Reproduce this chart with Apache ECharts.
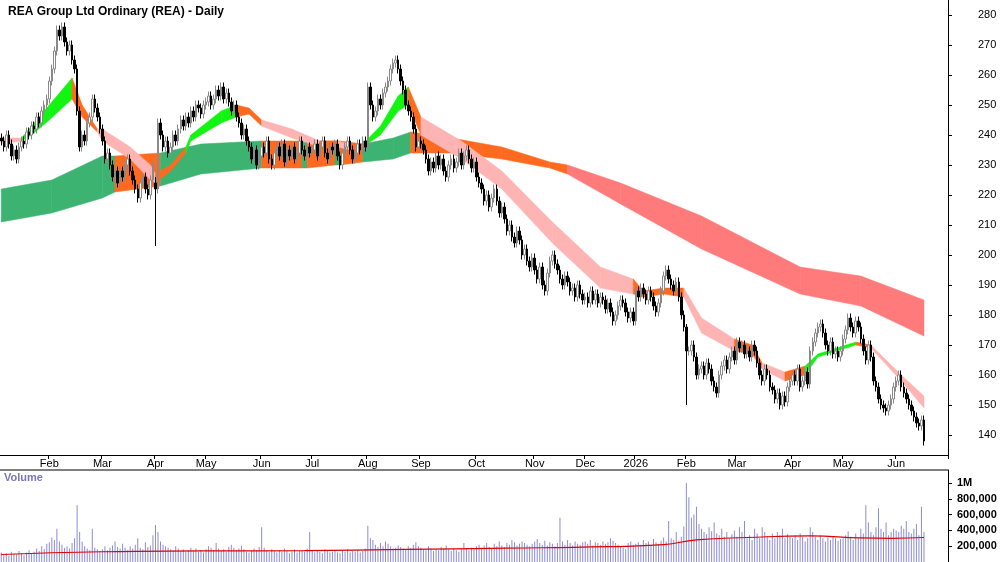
<!DOCTYPE html>
<html><head><meta charset="utf-8">
<script src="https://cdn.jsdelivr.net/npm/echarts@6/dist/echarts.min.js"></script>
<style>html,body{margin:0;background:#fff}#c{width:1000px;height:562px}</style>
</head><body><div id="c"></div>
<script>
// Daily closes by month
const months = [
  ['', [238,236,240,237,233,235,232,236,238,237,241,240,243,242,246,244,248,250,252]],
  ['Feb', [258,262,268,275,273,276,271,268,270,265,262,248,236,240,238,244,246,252,249,246,242]],
  ['Mar', [238,232,234,230,226,228,224,228,226,230,232,228,225,222,219,224,226,222,220,225,230]],
  ['Apr', [222,244,240,236,238,234,236,240,238,242,245,243,246,244,248,246,250,249,247,250]],
  ['May', [251,253,250,252,255,253,256,252,254,251,248,250,246,244,240,242,238,236,232,235,230,233]],
  ['Jun', [236,234,238,232,230,234,236,233,237,231,235,233,236,232,234,238,235,233,236,234]],
  ['Jul', [235,237,233,236,238,234,232,236,235,237,233,230,234,236,238,235,232,234,237,235,238,236]],
  ['Aug', [256,250,246,248,252,250,254,256,258,262,264,265,262,258,255,250,248,246,242,236,238]],
  ['Sep', [237,235,232,228,231,229,233,230,232,228,226,230,232,229,231,234,230,233,235,232,229,231]],
  ['Oct', [226,224,222,218,220,216,219,222,218,214,216,212,208,210,206,204,208,205,200,202,198,196,199]],
  ['Nov', [195,192,196,190,188,194,198,200,197,195,192,190,193,191,188,189,186,190,187,185]],
  ['Dec', [186,184,188,185,187,184,186,185,182,184,181,178,180,183,185,184,181,179,181,178]],
  ['2026', [188,186,189,187,185,188,186,183,181,184,188,193,195,192,190,188,191,186,180,176]],
  ['Feb', [168,168,170,166,160,162,163,160,164,162,158,156,154,160,163,165,162,166,168,165]],
  ['Mar', [171,169,170,167,168,166,170,168,164,160,158,162,160,156,155,152,154,150,153,151,156,158]],
  ['Apr', [160,158,162,156,158,161,157,168,171,174,176,177,174,170,168,171,167,168,166,168]],
  ['May', [172,175,179,176,174,178,176,172,168,165,170,166,158,156,152,150,149,148,150,152,156]],
  ['Jun', [158,160,156,154,152,150,148,146,144,143,145,138]]
];
// daily volume in thousands, same month order
const volume = [
  [120,90,110,80,130,100,95,140,110,85,120,150,100,130,170,140,200,160,230],
  [250,310,280,420,260,220,180,200,170,240,300,720,380,260,200,170,150,420,180,160,140],
  [160,200,150,180,210,260,190,170,230,180,150,200,170,220,300,180,160,250,190,210,340],
  [470,380,260,220,200,180,160,150,200,170,140,160,130,150,180,140,170,130,150,120],
  [160,200,180,150,240,170,140,160,130,190,220,180,150,170,210,160,130,120,140,170,150,190],
  [440,180,150,130,160,140,120,150,130,170,140,110,130,160,120,140,150,130,170,380],
  [140,120,150,130,110,160,140,120,130,150,120,110,140,130,160,120,140,130,150,120,140,170],
  [460,300,280,220,190,240,200,260,230,200,170,180,210,190,170,160,200,180,220,250,200],
  [180,160,150,200,170,140,160,150,190,170,210,160,140,170,150,130,160,240,170,150,180,160],
  [200,220,180,210,240,190,170,230,200,260,210,190,240,220,280,250,210,230,260,240,220,200,230],
  [260,290,240,220,270,210,250,230,200,240,560,260,220,280,240,210,260,230,220,250],
  [260,230,280,210,250,240,220,260,230,250,300,270,240,220,200,180,160,240,260,220],
  [230,250,220,280,240,260,220,290,250,230,270,310,260,520,300,280,380,270,320,450],
  [1000,820,560,600,700,480,420,380,350,440,390,500,360,340,420,320,380,300,350,400],
  [320,440,380,520,300,340,280,420,360,300,440,380,330,280,360,300,380,340,420,300,350,320],
  [300,340,280,360,320,260,300,440,380,320,280,340,300,260,310,280,320,300,270,290],
  [300,340,390,320,280,360,300,420,360,720,500,380,340,440,680,420,380,500,340,380,420],
  [400,380,460,420,520,380,360,420,480,340,700,380]
];
// special bars: [index, open, low, high]
const specialBars = [[61, 224, 203, 226], [271, 176, 150, 177]];
// volume moving average (thousands) at [index, value]
const volMA = [[0,95],[40,130],[80,140],[120,145],[160,160],[200,175],[240,195],[262,220],[275,280],[295,310],[320,330],[340,305],[352,300],[365,310]];
// ribbons: [index, low, high, colour code]
const shortBand = [[0,237,239,'P'],[8,238,239,'G'],[12,240,243,'G'],[19,245,250,'G'],[28,252,259,'O'],[32,246,250,'O'],[38,241,242,'P'],[40,238,242,'P'],[51,232,236,'P'],[59,225,230,'P'],[61,224,227,'O'],[67,228,230,'O'],[73,234,236,'G'],[75,238,240,'G'],[87,244,248,'G'],[93,246,250,'O'],[98,247,249,'O'],[103,243,245,'P'],[115,239,242,'P'],[126,236,238,'O'],[133,236,238,'P'],[138,235,237,'O'],[143,236,237,'G'],[150,240,243,'G'],[157,248,253,'G'],[161,250,256,'O'],[166,240,246,'P'],[170,238,244,'P'],[182,232,238,'P'],[198,222,228,'P'],[218,204,211,'P'],[237,189,196,'P'],[250,187,192,'O'],[254,186,188,'O'],[262,187,189,'O'],[270,186,189,'P'],[277,174,179,'P'],[290,168,172,'O'],[297,167,170,'O'],[301,162,164,'P'],[310,158,161,'O'],[318,160,163,'G'],[323,166,167,'G'],[338,170,171,'O'],[344,169,170,'P'],[356,158,160,'P'],[365,149,153,'P']];
const longBand = [[0,211,222,'g'],[20,214,225,'g'],[40,219,233,'g'],[45,221,233,'o'],[63,223,234,'g'],[79,227,237,'g'],[103,229,238,'o'],[119,229,238,'g'],[121,229,238,'o'],[132,230,238,'g'],[134,230,238,'o'],[143,231,237,'g'],[155,232,239,'g'],[162,234,241,'o'],[178,234,239,'o'],[198,232,236,'o'],[217,229,231,'o'],[224,227,230,'r'],[245,217,224,'r'],[277,202,213,'r'],[316,187,196,'r'],[340,183,193,'r'],[365,173,185,'r']];
const bandColors = {G:'#11f511', O:'#ff6a1e', P:'#ffb4b4', g:'#3cb371', o:'#ff6a1e', r:'#ff7b7b'};
const priceTicks = [140,150,160,170,180,190,200,210,220,230,240,250,260,270,280];
const volTicks = [200000,400000,600000,800000,1000000];

const closes = months.flatMap(m => m[1]);
const vols = volume.flat().map(v => v * 1000);
const N = 375;
const cats = [], starts = new Set(), startName = {};
let k = 0;
months.forEach(m => { if (m[0]) { starts.add(k); startName[k] = m[0]; } k += m[1].length; });
for (let i = 0; i < N; i++) cats.push(String(i));
const special = Object.fromEntries(specialBars.map(s => [s[0], s]));
const candles = closes.map((c, i) => {
  let o = i ? closes[i - 1] : c + 1;
  let lo = Math.min(o, c) - 1.5, hi = Math.max(o, c) + 1.5;
  if (special[i]) { o = special[i][1]; lo = special[i][2]; hi = special[i][3]; }
  return [o, c, lo, hi];
});

function bandSeries(pts) {
  return {
    type: 'custom', xAxisIndex: 0, yAxisIndex: 0, silent: true, z: 1,
    data: pts.map(p => [p[0], p[1], p[2]]),
    renderItem(params, api) {
      const i = params.dataIndex;
      if (i >= pts.length - 1) return;
      const a = pts[i], b = pts[i + 1];
      return {
        type: 'polygon',
        shape: { points: [api.coord([a[0], a[2]]), api.coord([b[0], b[2]]), api.coord([b[0], b[1]]), api.coord([a[0], a[1]])] },
        style: { fill: bandColors[a[3]], stroke: bandColors[a[3]], lineWidth: 0.5 }
      };
    }
  };
}

const chart = echarts.init(document.getElementById('c'));
const font = 'Arial, Liberation Sans';
const xCommon = {
  type: 'category', data: cats, boundaryGap: true,
  axisLine: { lineStyle: { color: '#000' } },
  axisTick: { show: false }, splitLine: { show: false }
};
chart.setOption({
  animation: false,
  title: { text: 'REA Group Ltd Ordinary (REA) - Daily', left: 3, top: 1,
    textStyle: { fontFamily: font, fontSize: 12, fontWeight: 'bold', color: '#000' } },
  graphic: [
    { type: 'text', left: 4, top: 472, style: { text: 'Volume', fill: '#7777bb', font: 'bold 11px ' + font } },
    { type: 'line', shape: { x1: 0, y1: 470, x2: 948, y2: 470 }, style: { stroke: '#000', lineWidth: 1 } }
  ],
  grid: [
    { left: 0, right: 52, top: 0, height: 455 },
    { left: 0, right: 52, top: 470, height: 92 }
  ],
  xAxis: [
    Object.assign({}, xCommon, { gridIndex: 0,
      axisTick: { show: true, length: 4, interval: i => starts.has(i), lineStyle: { color: '#000' } },
      axisLabel: { interval: i => starts.has(i), formatter: (v, i) => startName[i] || '',
        fontFamily: font, fontSize: 11, color: '#000', margin: 3 } }),
    Object.assign({}, xCommon, { gridIndex: 1, axisLine: { show: false }, axisLabel: { show: false } })
  ],
  yAxis: [
    { type: 'value', gridIndex: 0, position: 'right', min: 280 - 455 / 3 + 5, max: 285,
      axisLine: { show: true, lineStyle: { color: '#000' } }, splitLine: { show: false },
      axisTick: { show: true, customValues: priceTicks, length: 4 },
      axisLabel: { customValues: priceTicks, fontFamily: font, fontSize: 11, color: '#000', margin: 30 } },
    { type: 'value', gridIndex: 1, position: 'right', min: 0, max: 1165000,
      axisLine: { show: true, lineStyle: { color: '#000' } }, splitLine: { show: false },
      axisTick: { show: true, customValues: volTicks, length: 4 },
      axisLabel: { customValues: volTicks, formatter: v => v === 1000000 ? '1M' : v.toLocaleString('en-US'),
        fontFamily: font, fontSize: 11, fontWeight: 'bold', color: '#000', margin: 9,
        rich: {} } }
  ],
  series: [
    bandSeries(longBand),
    bandSeries(shortBand),
    { type: 'candlestick', xAxisIndex: 0, yAxisIndex: 0, data: candles, barWidth: 2, z: 3,
      itemStyle: { color: '#fff', color0: '#000', borderColor: '#8a8a8a', borderColor0: '#000', borderWidth: 1 } },
    { type: 'bar', xAxisIndex: 1, yAxisIndex: 1, data: vols, barWidth: 1,
      itemStyle: { color: '#8c8cd6' } },
    { type: 'line', xAxisIndex: 1, yAxisIndex: 1, data: volMA.map(p => [p[0], p[1] * 1000]),
      symbol: 'none', smooth: true, lineStyle: { color: '#e00000', width: 1.2 } }
  ]
});
</script></body></html>
